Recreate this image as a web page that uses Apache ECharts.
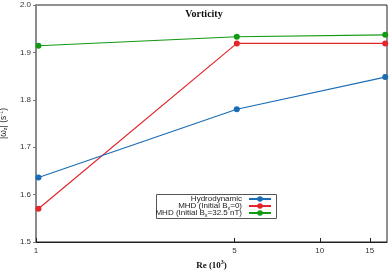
<!DOCTYPE html>
<html><head><meta charset="utf-8">
<script src="https://cdn.jsdelivr.net/npm/echarts@6/dist/echarts.min.js"></script>
<style>html,body{margin:0;padding:0;background:#fff}#c{width:390px;height:270px}</style>
</head><body><div id="c"></div>
<script>
var reValues = [1.02, 5.1, 17];
var hydroValues = [1.636, 1.780, 1.848];
var mhdZeroValues = [1.570, 1.919, 1.919];
var mhdFieldValues = [1.914, 1.933, 1.937];
var xTicks = [1, 5, 10, 15];
var seriesNames = ['Hydrodynamic', 'MHD (Initial Bx=0)', 'MHD (Initial Bx=32.5 nT)'];
var legendLabels = ['Hydrodynamic', 'MHD (Initial B{s|x}=0)', 'MHD (Initial B{s|x}=32.5 nT)'];
var colors = ['#1a6db5', '#e3262b', '#129a12'];

function pairs(ys){ return reValues.map(function(x,i){return [x, ys[i]];}); }
var allData = [hydroValues, mhdZeroValues, mhdFieldValues];

var chart = echarts.init(document.getElementById('c'), null, {renderer:'canvas'});
var sans = 'Liberation Sans';
var legendRows = [195, 202, 209];
var legends = seriesNames.map(function(n, i){
  return {
    data: [n], right: 118, top: legendRows[i], orient: 'horizontal', align: 'right',
    itemWidth: 22, itemHeight: 7, itemGap: 0, padding: 0,
    textStyle: {fontFamily: sans, fontSize: 8, color: '#222', padding: [0, 2, 0, 0],
      rich: {s: {fontSize: 5.5, fontFamily: sans, color: '#222', padding: [4,0,0,0]}}},
    formatter: function(){ return legendLabels[i]; }
  };
});
chart.setOption({
  animation: false,
  color: colors,
  title: {text: 'Vorticity', left: 204, top: 9, textAlign: 'center', padding: 0,
    textStyle: {fontFamily: 'Liberation Serif', fontWeight: 'bold', fontSize: 10, color: '#111'}},
  legend: legends,
  grid: {left: 36, right: 3, top: 5, bottom: 28, show: true, borderColor: '#222', borderWidth: 1,
    containLabel: false, outerBoundsMode: 'none'},
  graphic: [{type: 'rect', shape: {x: 156.5, y: 194.5, width: 120, height: 24},
    style: {fill: 'none', stroke: '#555', lineWidth: 1}, z: 0}],
  xAxis: {
    type: 'log', logBase: 10, min: 1, max: 17.25,
    name: 'Re (10{p|3})', nameLocation: 'middle', nameGap: 15,
    nameTextStyle: {fontFamily: 'Liberation Serif', fontWeight: 'bold', fontSize: 9, color: '#111',
      rich: {p: {fontFamily: 'Liberation Serif', fontWeight: 'bold', fontSize: 6, color: '#111', padding: [0,0,5,0]}}},
    axisLine: {show: true, lineStyle: {color: '#222', width: 1}},
    axisTick: {show: true, inside: true, length: 4, customValues: xTicks, lineStyle: {color: '#222'}},
    axisLabel: {customValues: xTicks, margin: 5, fontFamily: sans, fontSize: 8, color: '#333'},
    splitLine: {show: false}, minorTick: {show: false}
  },
  yAxis: {
    type: 'value', min: 1.5, max: 2.0, interval: 0.1,
    name: '|ω{b|z}| (s{p|-1})', nameLocation: 'middle', nameGap: 24, nameRotate: 90,
    nameTextStyle: {fontFamily: sans, fontSize: 8.5, color: '#222',
      rich: {b: {fontSize: 5.5, fontFamily: sans, color: '#222', padding: [4,0,0,0]},
             p: {fontSize: 5.5, fontFamily: sans, color: '#222', padding: [0,0,4,0]}}},
    axisLine: {show: true, lineStyle: {color: '#8a8a8a', width: 2}},
    axisTick: {show: true, inside: false, length: 3, lineStyle: {color: '#777'}},
    axisLabel: {margin: 5, fontFamily: sans, fontSize: 8, color: '#333',
      formatter: function(v){ return v.toFixed(1); }},
    splitLine: {show: false}
  },
  series: seriesNames.map(function(n, i){
    return {name: n, type: 'line', data: pairs(allData[i]), symbol: 'circle', symbolSize: 6,
      lineStyle: {width: 1.2, color: colors[i]}, itemStyle: {color: colors[i]}, z: 3 - i + 2};
  })
});
</script></body></html>
